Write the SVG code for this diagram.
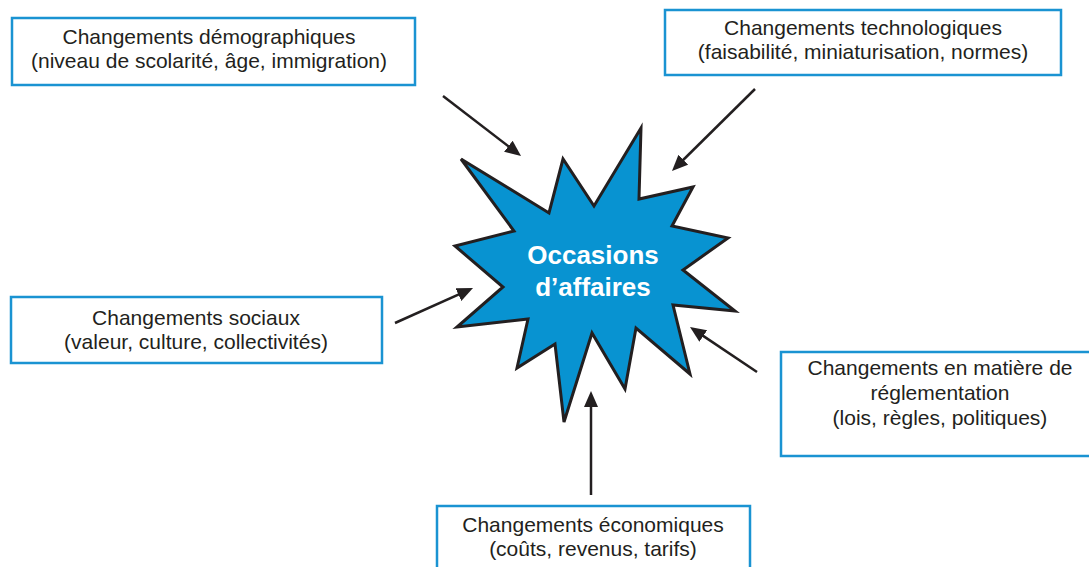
<svg xmlns="http://www.w3.org/2000/svg" width="1089" height="567" viewBox="0 0 1089 567">
<style>
.box{fill:#fff;stroke:#1a93d2;stroke-width:2.5}
.lbl{font-family:"Liberation Sans",Arial,sans-serif;font-size:21px;fill:#231f20;text-anchor:middle}
.ctr{font-family:"Liberation Sans",Arial,sans-serif;font-size:26px;font-weight:bold;fill:#fff;text-anchor:middle}
.conn{stroke:#231f20;stroke-width:2.5;fill:none;marker-end:url(#ah)}
</style>
<defs>
<marker id="ah" markerUnits="userSpaceOnUse" markerWidth="18" markerHeight="16" refX="6" refY="7" orient="auto">
<path d="M0,0 L16,7 L0,14 z" fill="#231f20"/>
</marker>
</defs>
<rect width="1089" height="567" fill="#fff"/>
<g id="center">
<polygon points="641,128 594,206 563,159 549,213 461,159 514,231 455,246 503,287 457,327 528,319 517,368 555,344 564,422 592,333 625,389 636,328 690,374 673,305 735,311 683,270 728,238 672,226 693,187 639,199" fill="#0893d1" stroke="#231f20" stroke-width="3" stroke-linejoin="miter"/>
<text class="ctr" x="593" y="264">Occasions</text>
<text class="ctr" x="593" y="296">d’affaires</text>
</g>
<g id="demographiques">
<rect class="box" x="12" y="18" width="403" height="67"/>
<text class="lbl" x="209" y="44">Changements démographiques</text>
<text class="lbl" x="209" y="68">(niveau de scolarité, âge, immigration)</text>
</g>
<g id="technologiques">
<rect class="box" x="665" y="10" width="396" height="65"/>
<text class="lbl" x="863" y="35">Changements technologiques</text>
<text class="lbl" x="863" y="59">(faisabilité, miniaturisation, normes)</text>
</g>
<g id="sociaux">
<rect class="box" x="11" y="297" width="371" height="66"/>
<text class="lbl" x="196" y="325">Changements sociaux</text>
<text class="lbl" x="196" y="349">(valeur, culture, collectivités)</text>
</g>
<g id="reglementation">
<rect class="box" x="781" y="352" width="330" height="104"/>
<text class="lbl" x="940" y="375">Changements en matière de</text>
<text class="lbl" x="940" y="400">réglementation</text>
<text class="lbl" x="940" y="425">(lois, règles, politiques)</text>
</g>
<g id="economiques">
<rect class="box" x="437" y="506" width="313" height="80"/>
<text class="lbl" x="593" y="532">Changements économiques</text>
<text class="lbl" x="593" y="556">(coûts, revenus, tarifs)</text>
</g>
<g id="connectors">
<line class="conn" x1="443" y1="96" x2="513.1" y2="149.9"/>
<line class="conn" x1="755" y1="89" x2="679.1" y2="164"/>
<line class="conn" x1="395" y1="323" x2="463.9" y2="292.1"/>
<line class="conn" x1="757" y1="372" x2="698.3" y2="332.6"/>
<line class="conn" x1="591" y1="495" x2="591" y2="401"/>
</g>
</svg>
